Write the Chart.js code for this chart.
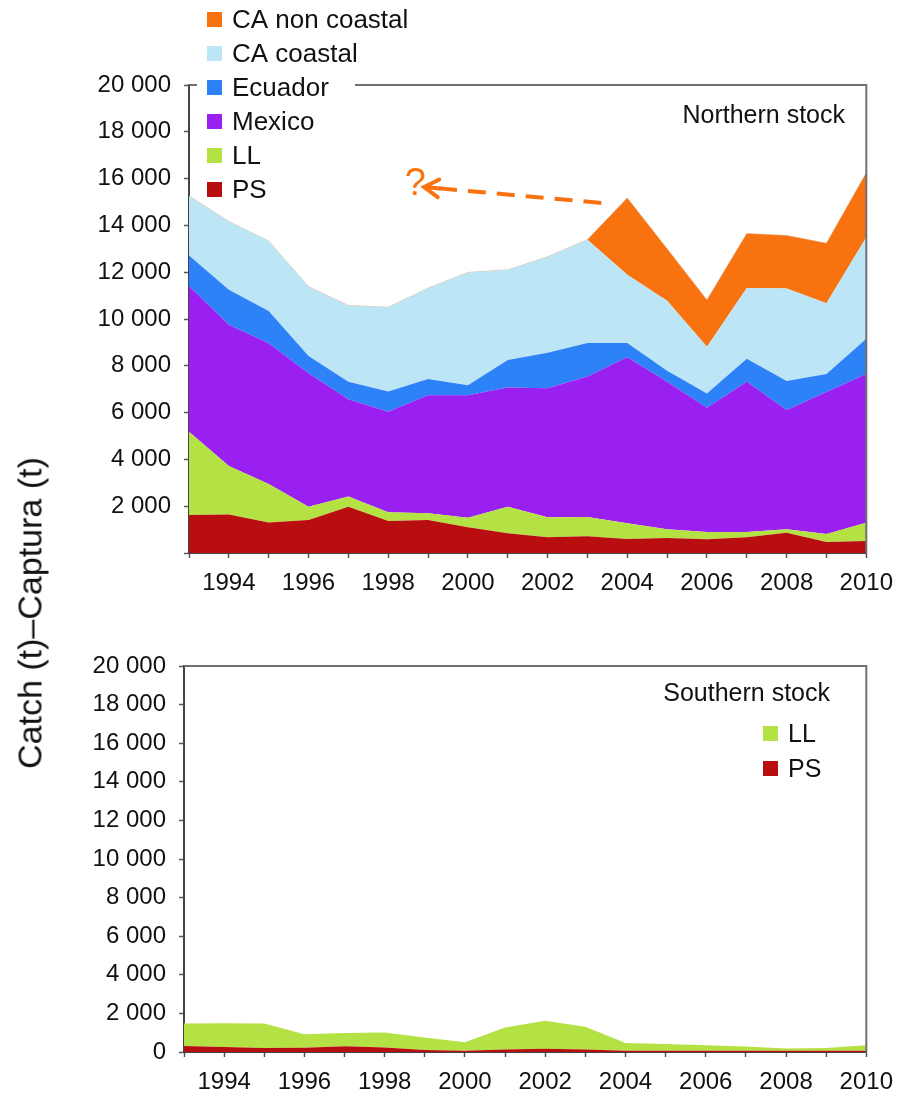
<!DOCTYPE html>
<html>
<head>
<meta charset="utf-8">
<script src="https://cdn.jsdelivr.net/npm/chart.js@4.4.0/dist/chart.umd.min.js"></script>
<style>
  body { margin: 0; background: #fff; }
  #wrap { position: relative; width: 904px; height: 1094px; font-family: "Liberation Sans", Arial, sans-serif; }
  canvas { position: absolute; left: 0; }
  #north { top: 0; }
  #south { top: 620px; }
  #ytitle {
    position: absolute; left: 30px; top: 613px;
    transform: translate(-50%, -50%) rotate(-90deg);
    font-size: 34px; white-space: nowrap; color: #111;
  }
</style>
</head>
<body>
<div id="wrap">
  <canvas id="north" width="904" height="620"></canvas>
  <canvas id="south" width="904" height="474"></canvas>
  <div id="ytitle">Catch (t)–Captura (t)</div>
</div>
<script>
// years and catches (t)
const years = ['1993', '1994', '1995', '1996', '1997', '1998', '1999', '2000', '2001',
               '2002', '2003', '2004', '2005', '2006', '2007', '2008', '2009', '2010'];

const northPS = [1620, 1650, 1300, 1410, 1980, 1370, 1410, 1100, 840, 670, 720, 600, 640, 590, 670, 870, 470, 510];
const northLL = [3560, 2070, 1650, 570, 430, 370, 290, 410, 1140, 860, 820, 670, 370, 310, 230, 140, 340, 780];
const northMexico = [6230, 6030, 6010, 5700, 4160, 4300, 5040, 5230, 5090, 5510, 6000, 7100, 6310, 5310, 6420, 5100, 6070, 6360];
const northEcuador = [1300, 1500, 1380, 740, 750, 860, 700, 430, 1180, 1520, 1430, 600, 470, 610, 980, 1240, 770, 1510];
const northCACoastal = [2550, 2920, 2990, 2960, 3260, 3600, 3880, 4820, 3850, 4100, 4420, 2920, 2990, 1990, 3030, 3950, 3020, 4330];
const northCANonCoastal = [0, 0, 0, 0, 0, 0, 0, 0, 0, 0, 0, 3280, 2220, 2000, 2320, 2270, 2570, 2760];

const southPS = [310, 260, 210, 220, 300, 230, 100, 60, 130, 170, 130, 60, 60, 60, 60, 60, 60, 60];
const southLL = [1170, 1230, 1270, 700, 680, 780, 650, 440, 1140, 1450, 1180, 410, 360, 290, 220, 120, 150, 290];

const yTicks = [0, 2000, 4000, 6000, 8000, 10000, 12000, 14000, 16000, 18000, 20000];

// the "?" note and dashed arrow (year, catch)
const arrowFrom = [2003.35, 14960];
const arrowTo = [1998.9, 15640];
const questionAt = [1998.68, 15730];

const colors = {
    'PS': '#b90e0f',
    'LL': '#b4e143',
    'Mexico': '#9a1ff1',
    'Ecuador': '#2e82f8',
    'CA coastal': '#bce5f6',
    'CA non coastal': '#f8730f'
};

const FONT = '"Liberation Sans", Arial, sans-serif';
Chart.defaults.font.family = FONT;
Chart.defaults.color = '#111';

const fmt = v => String(v).replace(/\B(?=(\d{3})+(?!\d))/g, ' ');

const area = (label, data, i) => ({
    label: label,
    data: data,
    backgroundColor: colors[label],
    borderColor: colors[label],
    borderWidth: 0,
    pointRadius: 0,
    tension: 0,
    fill: i === 0 ? 'origin' : '-1'
});

const makeScales = (yWidth, xHeight, showZero) => ({
    x: {
        offset: false,
        grid: { drawOnChartArea: false, tickLength: 5, tickColor: '#555', tickWidth: 1.5 },
        border: { color: '#444', width: 2 },
        ticks: {
            autoSkip: false, maxRotation: 0, padding: 11,
            font: { size: 24 },
            callback: (v, i) => Number(years[i]) % 2 === 0 ? years[i] : ''
        },
        afterFit: s => { s.height = xHeight; }
    },
    y: {
        stacked: true,
        min: 0, max: 20000,
        grid: { drawOnChartArea: false, tickLength: 5, tickColor: '#555', tickWidth: 1.5 },
        border: { color: '#444', width: 2 },
        afterBuildTicks: s => { s.ticks = yTicks.map(v => ({ value: v })); },
        ticks: {
            padding: 13,
            font: { size: 24 },
            callback: v => (v === 0 && !showZero) ? '' : fmt(v)
        },
        afterFit: s => { s.width = yWidth; }
    }
});

// grey box round the plot; top edge can leave a gap for the legend
const framePlugin = (gapFrom, gapTo) => ({
    id: 'frame',
    afterDatasetsDraw(chart) {
        const { ctx, chartArea: a } = chart;
        ctx.save();
        ctx.strokeStyle = '#707070';
        ctx.lineWidth = 2;
        ctx.beginPath();
        if (gapFrom != null) {
            ctx.moveTo(a.left, a.top); ctx.lineTo(gapFrom, a.top);
            ctx.moveTo(gapTo, a.top);
        } else {
            ctx.moveTo(a.left, a.top);
        }
        ctx.lineTo(a.right, a.top);
        ctx.lineTo(a.right, a.bottom);
        ctx.stroke();
        ctx.restore();
    }
});

const legendPlugin = (x, y0, step, size, title, titlePos) => ({
    id: 'sideLegend',
    afterDraw(chart) {
        const ctx = chart.ctx;
        ctx.save();
        ctx.textBaseline = 'middle';
        ctx.font = size + 'px ' + FONT;
        const sets = chart.data.datasets.slice().reverse();
        sets.forEach((ds, i) => {
            const y = y0 + i * step;
            ctx.fillStyle = ds.backgroundColor;
            ctx.fillRect(x, y - 8, 15, 15);
            ctx.fillStyle = '#111';
            ctx.fillText(ds.label, x + 25, y + 1);
        });
        if (title) {
            ctx.font = '25px ' + FONT;
            ctx.textAlign = 'right';
            ctx.fillText(title, titlePos[0], titlePos[1]);
        }
        ctx.restore();
    }
});

const notePlugin = {
    id: 'note',
    afterDraw(chart) {
        const { ctx, scales: { x, y } } = chart;
        const px = yr => x.getPixelForValue(yr - 1993);
        const x1 = px(arrowFrom[0]), y1 = y.getPixelForValue(arrowFrom[1]);
        const x2 = px(arrowTo[0]), y2 = y.getPixelForValue(arrowTo[1]);
        const ang = Math.atan2(y2 - y1, x2 - x1);
        ctx.save();
        ctx.strokeStyle = colors['CA non coastal'];
        ctx.fillStyle = colors['CA non coastal'];
        ctx.lineWidth = 4;
        ctx.setLineDash([18, 11]);
        ctx.beginPath();
        ctx.moveTo(x1, y1);
        ctx.lineTo(x2 - 14 * Math.cos(ang), y2 - 14 * Math.sin(ang));
        ctx.stroke();
        ctx.setLineDash([]);
        ctx.lineCap = 'round';
        ctx.beginPath();
        ctx.moveTo(x2 - 17 * Math.cos(ang - 0.55), y2 - 17 * Math.sin(ang - 0.55));
        ctx.lineTo(x2, y2);
        ctx.lineTo(x2 - 17 * Math.cos(ang + 0.55), y2 - 17 * Math.sin(ang + 0.55));
        ctx.moveTo(x2, y2);
        ctx.lineTo(x2 - 16 * Math.cos(ang), y2 - 16 * Math.sin(ang));
        ctx.stroke();
        ctx.font = '38px ' + FONT;
        ctx.textAlign = 'center';
        ctx.textBaseline = 'middle';
        ctx.fillText('?', px(questionAt[0]), y.getPixelForValue(questionAt[1]));
        ctx.restore();
    }
};

// Northern stock
const northSets = [
    area('PS', northPS, 0),
    area('LL', northLL, 1),
    area('Mexico', northMexico, 2),
    area('Ecuador', northEcuador, 3),
    area('CA coastal', northCACoastal, 4),
    area('CA non coastal', northCANonCoastal, 5)
];
// zero-height orange band still leaves a faint edge along the top, as in the figure
northSets[5].borderWidth = 1;
northSets[5].borderColor = 'rgba(225,150,100,0.55)';

new Chart(document.getElementById('north'), {
    type: 'line',
    data: { labels: years, datasets: northSets },
    options: {
        responsive: false,
        animation: false,
        layout: { padding: { top: 85, right: 30, left: 0, bottom: 0 } },
        plugins: { legend: { display: false }, tooltip: { enabled: false } },
        scales: makeScales(189, 67, false)
    },
    plugins: [framePlugin(197, 355), legendPlugin(207, 20, 34, 26, 'Northern stock', [845, 116]), notePlugin]
});

// Southern stock
new Chart(document.getElementById('south'), {
    type: 'line',
    data: {
        labels: years,
        datasets: [area('PS', southPS, 0), area('LL', southLL, 1)]
    },
    options: {
        responsive: false,
        animation: false,
        layout: { padding: { top: 46, right: 36, left: 0, bottom: 0 } },
        plugins: { legend: { display: false }, tooltip: { enabled: false } },
        scales: makeScales(184, 42, true)
    },
    plugins: [framePlugin(null, null), legendPlugin(763, 114, 35, 25, 'Southern stock', [830, 74])]
});
</script>
</body>
</html>
